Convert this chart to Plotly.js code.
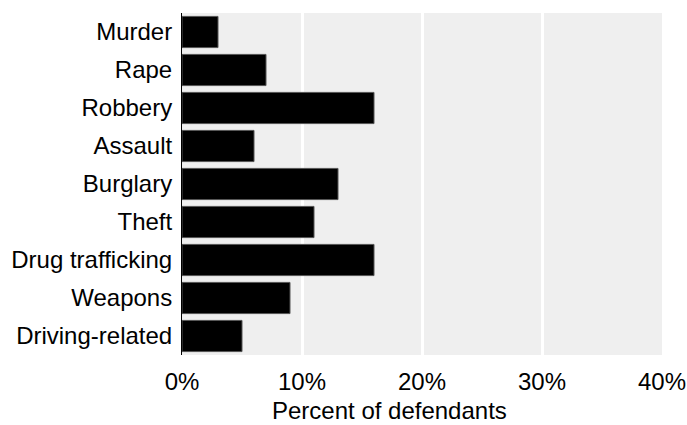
<!DOCTYPE html>
<html>
<head>
<meta charset="utf-8">
<script src="https://cdn.plot.ly/plotly-3.0.1.min.js"></script>
<style>html,body{margin:0;padding:0;background:#fff;}</style>
</head>
<body>
<div id="chart" style="width:687px;height:425px;"></div>
<script>
const categories = ["Murder", "Rape", "Robbery", "Assault", "Burglary", "Theft", "Drug trafficking", "Weapons", "Driving-related"];
const percentValues = [3, 7, 16, 6, 13, 11, 16, 9, 5];
const xTickValues = [0, 10, 20, 30, 40];
const xTickLabels = ["0%", "10%", "20%", "30%", "40%"];
const xAxisTitle = "Percent of defendants";

const font = {family: "Liberation Sans, Arial, sans-serif", size: 24, color: "#000"};

const trace = {
  type: "bar",
  orientation: "h",
  y: categories,
  x: percentValues,
  marker: {color: "#000000", line: {color: "#555555", width: 1}},
  hoverinfo: "skip"
};

const layout = {
  width: 687,
  height: 425,
  margin: {l: 182, r: 25, t: 13, b: 70, pad: 0},
  paper_bgcolor: "#ffffff",
  plot_bgcolor: "#efefef",
  font: font,
  showlegend: false,
  bargap: 0.18,
  xaxis: {
    range: [0, 40],
    tickvals: xTickValues,
    ticktext: xTickLabels,
    showgrid: true,
    gridcolor: "#ffffff",
    gridwidth: 3,
    zeroline: false,
    showline: false,
    ticks: "",
    ticklabelstandoff: 10,
    tickfont: font,
    fixedrange: true
  },
  yaxis: {
    categoryorder: "array",
    categoryarray: categories,
    autorange: "reversed",
    showgrid: false,
    zeroline: false,
    showline: true,
    linecolor: "#000000",
    linewidth: 1,
    ticks: "",
    ticklabelstandoff: 4,
    tickfont: font,
    fixedrange: true
  },
  annotations: [{
    text: xAxisTitle,
    xref: "paper", yref: "paper",
    x: 0.433, y: -0.163,
    xanchor: "center", yanchor: "middle",
    showarrow: false,
    font: font
  }]
};

Plotly.newPlot("chart", [trace], layout, {displayModeBar: false, staticPlot: true});
</script>
</body>
</html>
